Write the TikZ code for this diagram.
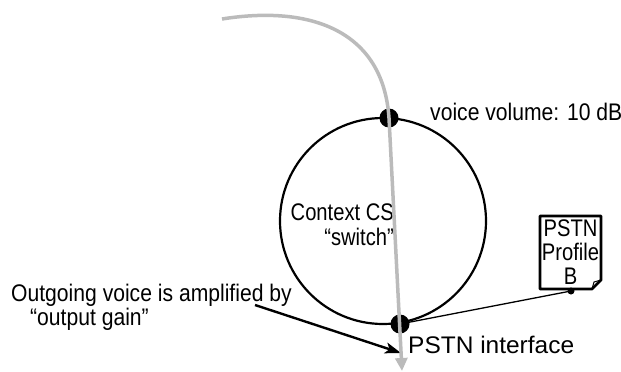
\documentclass[tikz,border=0pt]{standalone}
\usepackage{fontspec}
\setmainfont{Liberation Sans}[FakeStretch=0.88]
\newfontfamily\narrowfont{Liberation Sans}[FakeStretch=0.84]
\newfontfamily\widefont{Liberation Sans}[FakeStretch=1.02]
\usetikzlibrary{arrows.meta}
\definecolor{flowgray}{HTML}{BBBBBB}
\tikzset{
  bigdot/.style={circle, fill=black, inner sep=0pt, minimum size=19pt},
  smalldot/.style={circle, fill=black, inner sep=0pt, minimum size=7pt},
  ring/.style={circle, draw=black, line width=2.2pt, inner sep=0pt, minimum size=206pt},
  flow/.style={draw=flowgray, line width=3.5pt, -{Triangle[length=13pt,width=12pt]}},
  pointer/.style={draw=black, line width=2.4pt, -{Stealth[length=16pt,width=11pt,inset=4pt]}},
  lbl/.style={inner sep=0pt, anchor=base west},
  txt/.style={font=\fontsize{24}{24}\selectfont},
}
\begin{document}
\begin{tikzpicture}[x=1pt,y=-1pt,txt]
\useasboundingbox (0,0) rectangle (621,372);
% ring
\node[ring] (cs) at (383,221) {};
% profile document
\node[align=center, inner sep=0pt, font=\fontsize{24}{24}\narrowfont] (proftext) at (570.5,252) {PSTN\\Profile\\B};
\coordinate (p1) at (540,216);
\coordinate (p2) at (601,216);
\coordinate (p3) at (601,280);
\coordinate (p4) at (592,289);
\coordinate (p5) at (540,289);
\draw[line width=2.8pt, line join=round] (p1) -- (p2) -- (p3) -- (p4) -- (p5) -- cycle;
\coordinate (f1) at (594,282);
\draw[line width=1pt] (p4) -- (f1) -- (p3);
% dots
\node[bigdot] (top) at (389,118) {};
\node[bigdot] (bot) at (400,324) {};
\node[smalldot] (pd) at (571,291) {};
\draw[line width=1.3pt] (bot.center) -- (pd.center);
% labels
\node[lbl] (vv) at (430,120) {voice volume: 10 dB};
\node[align=right, anchor=base east, inner sep=0pt, font=\fontsize{24}{25}\narrowfont] (ctx) at (394,245) {Context CS\\“switch”};
\node[lbl, font=\fontsize{24}{24}\widefont] (pi) at (408,353) {PSTN interface};
\node[inner sep=0pt, anchor=base west, align=left, font=\fontsize{24}{21}\selectfont] (og) at (11,325) {Outgoing voice is amplified by\\\hspace*{19pt}“output gain”};
% arrows
\coordinate (as) at (255,305);
\coordinate (at) at (401,353);
\draw[pointer] (as) -- (at);
\coordinate (gs) at (222,19);
\coordinate (ge) at (402,371);
\draw[flow] (gs) .. controls (310,5) and (383,30) .. (top.center) -- (ge);
\end{tikzpicture}
\end{document}
